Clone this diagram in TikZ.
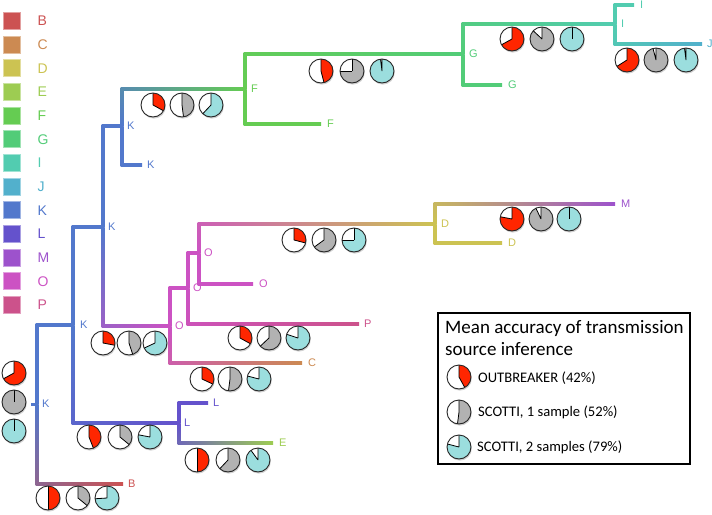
\documentclass[tikz,border=0pt]{standalone}
\usepackage{fontspec}
\setmainfont{Liberation Sans}
\newfontfamily\calibri{Carlito}
\usetikzlibrary{calc}
\usetikzlibrary{positioning}

\definecolor{colB}{RGB}{204,82,82}
\definecolor{colC}{RGB}{204,138,82}
\definecolor{colD}{RGB}{204,195,82}
\definecolor{colE}{RGB}{157,204,82}
\definecolor{colF}{RGB}{101,204,82}
\definecolor{colG}{RGB}{82,204,120}
\definecolor{colI}{RGB}{82,204,176}
\definecolor{colJ}{RGB}{82,176,204}
\definecolor{colK}{RGB}{82,120,204}
\definecolor{colL}{RGB}{100,82,204}
\definecolor{colM}{RGB}{157,82,204}
\definecolor{colO}{RGB}{204,82,195}
\definecolor{colP}{RGB}{204,82,139}
\definecolor{pieRed}{RGB}{255,38,0}
\definecolor{pieGray}{RGB}{178,178,178}
\definecolor{pieCyan}{RGB}{155,222,222}

\newdimen\brxa
\newdimen\brya
\newdimen\brxb
\newdimen\bryb

\newcommand{\branch}[4]{%
  \pgfextractx{\brxa}{\pgfpointanchor{#1}{center}}%
  \pgfextracty{\brya}{\pgfpointanchor{#1}{center}}%
  \pgfextractx{\brxb}{\pgfpointanchor{#2}{center}}%
  \pgfextracty{\bryb}{\pgfpointanchor{#2}{center}}%
  \pgfmathsetmacro\brv{abs(\bryb-\brya)}%
  \pgfmathsetmacro\brh{abs(\brxb-\brxa)}%
  \pgfmathsetmacro\brmix{\brh/(\brv+\brh)*100}%
  \colorlet{brmid}{#3!\brmix!#4}%
  \ifdim\bryb>\brya
    \shade[top color=brmid, bottom color=#3] ($(#1)+(-1.5,0)$) rectangle ($(#1|-#2)+(1.5,0)$);
  \else
    \shade[top color=#3, bottom color=brmid] ($(#1)+(-1.5,0)$) rectangle ($(#1|-#2)+(1.5,0)$);
  \fi
  \shade[left color=brmid, right color=#4] ($(#1|-#2)+(-1.5,-1.5)$) rectangle ($(#2)+(0,1.5)$);
}

\newcommand{\accpie}[4]{%
  \fill[black, opacity=0.18] (#1+0.8,#2+1.6) circle (12);
  \fill[white] (#1,#2) circle (12);
  \pgfmathsetmacro\pieend{-90+360*#3}%
  \fill[#4] (#1,#2) -- ++(-90:12) arc (-90:\pieend:12) -- cycle;
  \draw[line width=0.8] (#1,#2) -- ++(-90:12) (#1,#2) -- ++(\pieend:12);
  \draw[line width=0.9, black!85] (#1,#2) circle (12);
}

\begin{document}
\begin{tikzpicture}[
x=1pt, y=-1pt,
lab/.style={font=\fontsize{11}{13}\selectfont, inner sep=0pt},
legsq/.style={minimum size=17pt, inner sep=0pt, line width=0.8},
leglab/.style={font=\fontsize{14}{16}\selectfont, inner sep=0pt},
boxtext/.style={anchor=base west, inner sep=0pt, font=\calibri\fontsize{14.6}{17}\selectfont}
]
\useasboundingbox (0,0) rectangle (712,514);

\foreach \lab [count=\i from 0] in {B,C,D,E,F,G,I,J,K,L,M,O,P} {
  \node[legsq, fill=col\lab, draw=col\lab!55] (sq\lab) at (11.5,21+23.67*\i) {};
  \node[leglab, text=col\lab, right=17pt of sq\lab.east, anchor=west] (leg\lab) {\lab};
}

\coordinate (R) at (37,404);
\coordinate (stub) at (31,404);
\coordinate (K1) at (73,325);
\coordinate (K2) at (103,227);
\coordinate (K3) at (122,126);
\coordinate (Kl) at (142,165);
\coordinate (F1) at (245,89);
\coordinate (Fl) at (321,124);
\coordinate (G1) at (463,54);
\coordinate (Gl) at (502,85);
\coordinate (I1) at (615,24);
\coordinate (Il) at (634,5);
\coordinate (Jl) at (702,44);
\coordinate (O1) at (170,326);
\coordinate (O2) at (188,288);
\coordinate (O3) at (199,253);
\coordinate (Ol) at (253,284);
\coordinate (D1) at (435,224);
\coordinate (Ml) at (615,204);
\coordinate (Dl) at (502,243);
\coordinate (Pl) at (359,324);
\coordinate (Cl) at (302,363);
\coordinate (L1) at (179,423);
\coordinate (Ll) at (208,403);
\coordinate (El) at (273,443);
\coordinate (Bl) at (123,484);

\draw[colK, line width=3] (stub) -- (R);
\branch{R}{K1}{colK}{colK}
\branch{R}{Bl}{colK}{colB}
\branch{K1}{K2}{colK}{colK}
\branch{K1}{L1}{colK}{colL}
\branch{K2}{K3}{colK}{colK}
\branch{K2}{O1}{colK}{colO}
\branch{K3}{F1}{colK}{colF}
\branch{K3}{Kl}{colK}{colK}
\branch{F1}{G1}{colF}{colG}
\branch{F1}{Fl}{colF}{colF}
\branch{G1}{I1}{colG}{colI}
\branch{G1}{Gl}{colG}{colG}
\branch{I1}{Il}{colI}{colI}
\branch{I1}{Jl}{colI}{colJ}
\branch{O1}{O2}{colO}{colO}
\branch{O1}{Cl}{colO}{colC}
\branch{O2}{O3}{colO}{colO}
\branch{O2}{Pl}{colO}{colP}
\branch{O3}{D1}{colO}{colD}
\branch{O3}{Ol}{colO}{colO}
\branch{D1}{Ml}{colD}{colM}
\branch{D1}{Dl}{colD}{colD}
\branch{L1}{Ll}{colL}{colL}
\branch{L1}{El}{colL}{colE}

\node[lab, text=colK, right=5pt of R] (labR) {K};
\node[lab, text=colK, right=7pt of K1] (labK1) {K};
\node[lab, text=colK, right=5pt of K2] (labK2) {K};
\node[lab, text=colK, right=5pt of K3] (labK3) {K};
\node[lab, text=colK, right=5pt of Kl] (labKl) {K};
\node[lab, text=colF, right=6pt of F1] (labF1) {F};
\node[lab, text=colF, right=6pt of Fl] (labFl) {F};
\node[lab, text=colG, right=6pt of G1] (labG1) {G};
\node[lab, text=colG, right=6pt of Gl] (labGl) {G};
\node[lab, text=colI, right=6pt of I1] (labI1) {I};
\node[lab, text=colI, right=6pt of Il] (labIl) {I};
\node[lab, text=colJ, right=5pt of Jl] (labJl) {J};
\node[lab, text=colO, right=5pt of O1] (labO1) {O};
\node[lab, text=colO, right=5pt of O2] (labO2) {O};
\node[lab, text=colO, right=5pt of O3] (labO3) {O};
\node[lab, text=colO, right=6pt of Ol] (labOl) {O};
\node[lab, text=colD, right=6pt of D1] (labD1) {D};
\node[lab, text=colM, right=6pt of Ml] (labMl) {M};
\node[lab, text=colD, right=6pt of Dl] (labDl) {D};
\node[lab, text=colP, right=5pt of Pl] (labPl) {P};
\node[lab, text=colC, right=6pt of Cl] (labCl) {C};
\node[lab, text=colL, right=5pt of L1] (labL1) {L};
\node[lab, text=colL, right=5pt of Ll] (labLl) {L};
\node[lab, text=colE, right=6pt of El] (labEl) {E};
\node[lab, text=colB, right=5pt of Bl] (labBl) {B};

\accpie{14}{373}{0.67}{pieRed}
\accpie{14}{402}{1}{pieGray}
\accpie{14}{431}{1}{pieCyan}
\foreach \py/\xa/\xb/\xc/\fa/\fb/\fc in {
  498/48/78/107/0.5/0.36/0.74,
  437/89/120/150/0.44/0.36/0.78,
  460/197/228/258/0.5/0.62/0.9,
  343/103/129/155/0.28/0.45/0.68,
  379/202/230/259/0.32/0.52/0.79,
  338/240/269/298/0.33/0.63/0.8,
  240/294/324/354/0.29/0.65/0.75,
  219/512/541/569/0.78/0.93/1,
  105/153/182/211/0.33/0.48/0.62,
  71/321/352/382/0.46/0.75/0.98,
  39/512/542/572/0.67/0.87/1,
  60/627/656/686/0.66/0.96/0.98} {
  \accpie{\xa}{\py}{\fa}{pieRed}
  \accpie{\xb}{\py}{\fb}{pieGray}
  \accpie{\xc}{\py}{\fc}{pieCyan}
}

\node[draw, fill=white, line width=1.6, minimum width=252, minimum height=151, anchor=north west, inner sep=0pt] (legend) at (437,312) {};
\node[boxtext, font=\calibri\fontsize{19}{21}\selectfont] (title1) at (445,333) {Mean accuracy of transmission};
\node[boxtext, font=\calibri\fontsize{19}{21}\selectfont] (title2) at (445,355) {source inference};
\accpie{459}{377}{0.42}{pieRed}
\accpie{459}{412}{0.52}{pieGray}
\accpie{459}{447}{0.79}{pieCyan}
\node[boxtext] (entA) at (478,382) {OUTBREAKER (42\%)};
\node[boxtext] (entB) at (478,416) {SCOTTI, 1 sample (52\%)};
\node[boxtext] (entC) at (477,451) {SCOTTI, 2 samples (79\%)};
\end{tikzpicture}
\end{document}
